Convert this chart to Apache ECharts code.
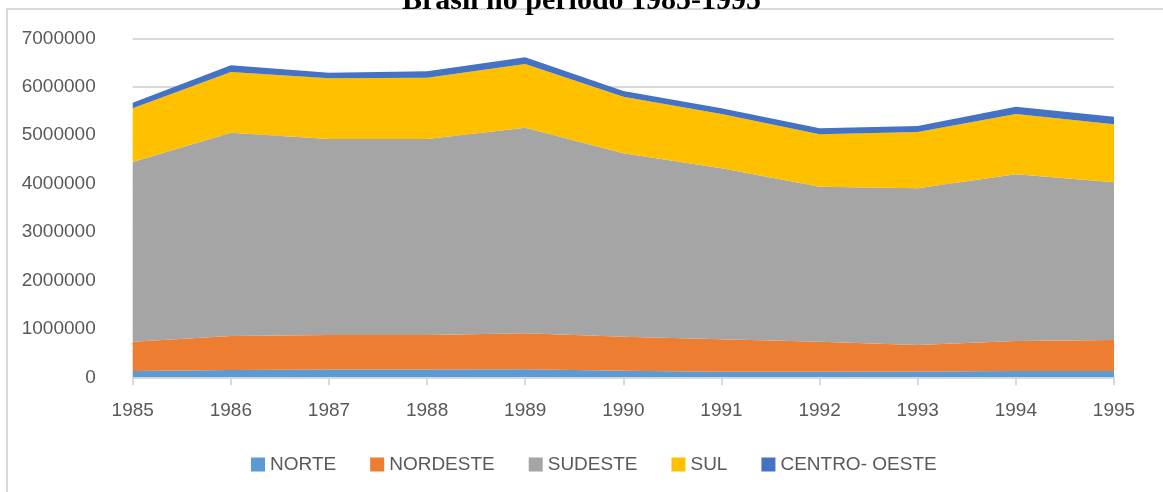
<!DOCTYPE html>
<html>
<head>
<meta charset="utf-8">
<title>Brasil no período 1985-1995</title>
<script src="https://cdn.jsdelivr.net/npm/echarts@6/dist/echarts.min.js"></script>
<style>
  html, body { margin: 0; padding: 0; background: #fff; }
  #chart { width: 1163px; height: 492px; }
</style>
</head>
<body>
<div id="chart"></div>
<script>
// dados
const anos = ['1985', '1986', '1987', '1988', '1989', '1990', '1991', '1992', '1993', '1994', '1995']
const norte = [130000, 151000, 161000, 161000, 165000, 136000, 116000, 116000, 120000, 130000, 130000]
const nordeste = [605000, 702000, 712000, 712000, 744000, 702000, 669000, 619000, 547000, 620000, 640000]
const sudeste = [3711000, 4198000, 4048000, 4048000, 4245000, 3787000, 3531000, 3201000, 3236000, 3442000, 3256000]
const sul = [1108000, 1253000, 1253000, 1265000, 1315000, 1169000, 1121000, 1082000, 1162000, 1245000, 1198000]
const centroOeste = [116000, 138000, 116000, 132000, 138000, 118000, 117000, 123000, 124000, 150000, 157000]

const regioes = ['NORTE', 'NORDESTE', 'SUDESTE', 'SUL', 'CENTRO- OESTE']
const cores = ['#5b9bd5', '#ed7d31', '#a5a5a5', '#ffc000', '#4472c4']
const valores = [norte, nordeste, sudeste, sul, centroOeste]

const fonte = '"Liberation Sans", Arial, sans-serif'

const chart = echarts.init(document.getElementById('chart'))

const option = {
  backgroundColor: '#fff',
  animation: false,
  color: cores,
  title: {
    text: 'Brasil no período 1985-1995',
    left: 'center',
    top: -19,
    textStyle: {
      fontFamily: '"Liberation Serif", "Times New Roman", serif',
      fontWeight: 'bold',
      fontSize: 30,
      color: '#000'
    }
  },
  // moldura do gráfico
  graphic: [{
    type: 'rect',
    z: -1,
    shape: { x: 7, y: 9, width: 1300, height: 600 },
    style: { fill: 'none', stroke: '#d9d9d9', lineWidth: 2 }
  }],
  legend: {
    left: 246,
    top: 450,
    itemWidth: 14,
    itemHeight: 14,
    itemGap: 34,
    icon: 'rect',
    textStyle: { fontFamily: fonte, fontSize: 19, color: '#595959' },
    data: regioes
  },
  grid: {
    left: 132.7,
    right: 49,
    top: 38.3,
    bottom: 114.7
  },
  xAxis: {
    type: 'category',
    boundaryGap: false,
    data: anos,
    axisLine: { lineStyle: { color: '#d9d9d9', width: 2 } },
    axisTick: { show: true, length: 8, lineStyle: { color: '#d9d9d9', width: 2 } },
    axisLabel: { fontFamily: fonte, fontSize: 19, color: '#595959', margin: 24 }
  },
  yAxis: {
    type: 'value',
    min: 0,
    max: 7000000,
    interval: 1000000,
    axisLine: { show: false },
    axisTick: { show: false },
    splitLine: { lineStyle: { color: '#d9d9d9', width: 2 } },
    axisLabel: {
      fontFamily: fonte, fontSize: 19, color: '#595959', margin: 37,
      formatter: v => String(v)
    }
  },
  series: regioes.map((nome, i) => ({
    name: nome,
    type: 'line',
    stack: 'total',
    data: valores[i],
    symbol: 'none',
    lineStyle: { width: 0 },
    areaStyle: { color: cores[i], opacity: 1 },
    emphasis: { disabled: true }
  }))
}

chart.setOption(option)
</script>
</body>
</html>
